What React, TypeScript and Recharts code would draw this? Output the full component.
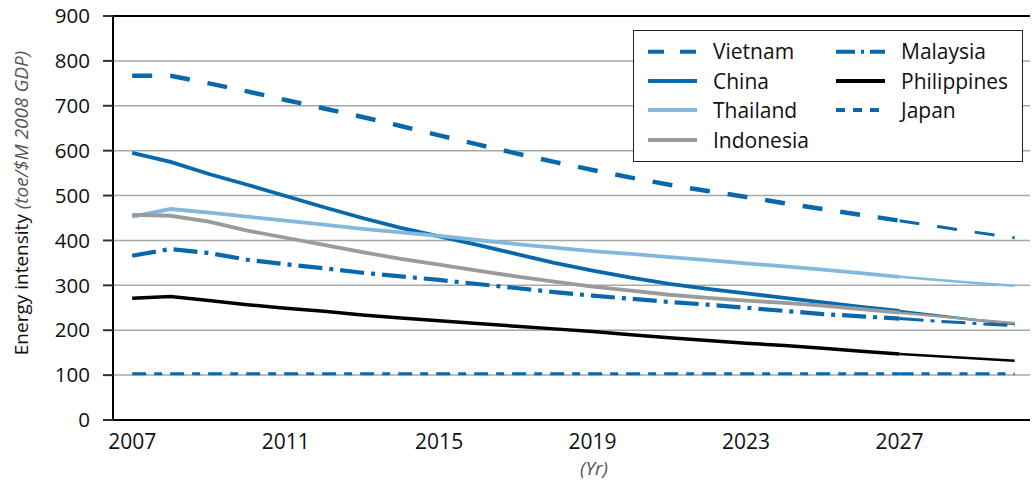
import React from 'react';
import { LineChart, Line, XAxis, YAxis, CartesianGrid, ReferenceLine } from 'recharts';

const years = [2007, 2008, 2009, 2010, 2011, 2012, 2013, 2014, 2015, 2016, 2017, 2018, 2019, 2020, 2021, 2022, 2023, 2024, 2025, 2026, 2027, 2028, 2029, 2030];

const vietnam = [767, 767, 750, 732, 713, 694, 675, 655, 634, 614, 594, 575, 557, 540, 524, 510, 497, 483, 470, 457, 444, 431, 418, 406];
const china = [595, 575, 548, 524, 499, 474, 450, 428, 409, 390, 370, 350, 333, 317, 303, 292, 282, 272, 262, 252, 243, 233, 223, 214];
const thailand = [453, 470, 462, 453, 444, 435, 426, 418, 410, 401, 392, 384, 376, 370, 363, 356, 349, 342, 335, 327, 319, 312, 305, 299];
const indonesia = [457, 455, 442, 422, 406, 390, 374, 359, 346, 333, 320, 308, 297, 288, 279, 272, 266, 261, 255, 247, 239, 231, 223, 216];
const malaysia = [366, 381, 372, 357, 347, 338, 328, 320, 312, 303, 294, 285, 277, 270, 263, 257, 250, 243, 236, 231, 226, 220, 215, 210];
const philippines = [271, 275, 266, 257, 249, 242, 234, 227, 221, 215, 209, 203, 197, 190, 183, 177, 171, 166, 160, 153, 147, 142, 137, 132];
const japan = [103, 103, 103, 103, 103, 103, 103, 103, 103, 103, 103, 103, 103, 103, 103, 103, 103, 103, 103, 103, 103, 103, 103, 103];

const xTicks = [2007, 2011, 2015, 2019, 2023, 2027];
const yTicks = [0, 100, 200, 300, 400, 500, 600, 700, 800, 900];
// last projected stretch is drawn thinner in the original
const tailStart = 2027;

const BLUE = '#0868ac';
const LIGHT = '#84b7dc';
const GREY = '#9b9b9b';

const series = [
  { key: 'vietnam', name: 'Vietnam', values: vietnam, color: BLUE, dash: '20 18', width: 4.5, tail: 3, legendDash: '16 16' },
  { key: 'china', name: 'China', values: china, color: BLUE, dash: undefined, width: 3.8, tail: 2.5, legendDash: undefined },
  { key: 'thailand', name: 'Thailand', values: thailand, color: LIGHT, dash: undefined, width: 3.8, tail: 2.5, legendDash: undefined },
  { key: 'indonesia', name: 'Indonesia', values: indonesia, color: GREY, dash: undefined, width: 3.8, tail: 2.5, legendDash: undefined },
  { key: 'malaysia', name: 'Malaysia', values: malaysia, color: BLUE, dash: '24 7 4 7', width: 4.2, tail: 3, legendDash: '19 6 3 6' },
  { key: 'philippines', name: 'Philippines', values: philippines, color: '#000', dash: undefined, width: 3.5, tail: 2.5, legendDash: undefined },
  { key: 'japan', name: 'Japan', values: japan, color: BLUE, dash: '14 8 8 8', width: 3.2, tail: 3, legendDash: '9 8' },
];

const rows = years.map((year, i) => {
  const row: any = { year };
  series.forEach(s => {
    row[s.key] = year <= tailStart ? s.values[i] : null;
    row[s.key + 'Tail'] = year >= tailStart ? s.values[i] : null;
  });
  return row;
});

const YLabel = () => (
  <text transform="translate(28,203) rotate(-90)" textAnchor="middle" fontSize={19} fontFamily='"Open Sans", sans-serif'>
    <tspan fill="#111">Energy intensity </tspan>
    <tspan fill="#555" fontStyle="italic">(toe/$M 2008 GDP)</tspan>
  </text>
);

const XLabel = () => (
  <text x={594} y={475} textAnchor="middle" fontSize={19} fontStyle="italic" fill="#555" fontFamily='"Open Sans", sans-serif'>(Yr)</text>
);

const legendCols = [
  ['vietnam', 'china', 'thailand', 'indonesia'],
  ['malaysia', 'philippines', 'japan'],
];
const legendRowY = [21.7, 51, 80, 110];
const legendColX = [15, 203];

const LegendBox = () => (
  <div style={{ position: 'absolute', left: 633, top: 30, width: 390, height: 132, border: '1.5px solid #222', boxSizing: 'border-box', background: '#fff' }}>
    <svg width={390} height={132} style={{ position: 'absolute', left: -1.5, top: -1.5 }}>
      {legendCols.map((col, ci) =>
        col.map((key, ri) => {
          const s = series.find(d => d.key === key)!;
          const x = legendColX[ci];
          const y = legendRowY[ri];
          return (
            <g key={key}>
              <line x1={x} x2={x + 49} y1={y} y2={y} stroke={s.color} strokeWidth={4} strokeDasharray={s.legendDash} />
              <text x={x + 65} y={y + 7.5} fontSize={21} fill="#111" fontFamily='"Open Sans", sans-serif'>{s.name}</text>
            </g>
          );
        })
      )}
    </svg>
  </div>
);

export default function App() {
  return (
    <div style={{ position: 'absolute', left: 0, top: 0, width: 1034, height: 481, background: '#fff', fontFamily: '"Open Sans", sans-serif' }}>
      <LineChart width={1034} height={481} data={rows} margin={{ top: 16, right: 4, bottom: 0, left: 0 }}>
        <CartesianGrid vertical={false} stroke="#a8a8a8" strokeWidth={1.5} />
        <XAxis
          type="number"
          dataKey="year"
          domain={[2006.5, 2030.4]}
          ticks={xTicks}
          allowDataOverflow
          height={61}
          tickLine={false}
          axisLine={{ stroke: '#000', strokeWidth: 2 }}
          tick={{ fontSize: 21, fill: '#111' }}
          tickMargin={8}
          label={{ content: XLabel }}
        />
        <YAxis
          type="number"
          domain={[0, 900]}
          ticks={yTicks}
          width={113}
          tickSize={10}
          tickMargin={13}
          tickLine={{ stroke: '#333', strokeWidth: 2 }}
          axisLine={{ stroke: '#000', strokeWidth: 2 }}
          tick={{ fontSize: 20.5, fill: '#111' }}
          label={{ content: YLabel }}
        />
        <ReferenceLine y={900} stroke="#000" strokeWidth={2} />
        {series.map(s => (
          <Line
            key={s.key}
            dataKey={s.key}
            name={s.name}
            type="linear"
            stroke={s.color}
            strokeWidth={s.width}
            strokeDasharray={s.dash}
            dot={false}
            activeDot={false}
            isAnimationActive={false}
          />
        ))}
        {series.map(s => (
          <Line
            key={s.key + 'Tail'}
            dataKey={s.key + 'Tail'}
            legendType="none"
            type="linear"
            stroke={s.color}
            strokeWidth={s.tail}
            strokeDasharray={s.dash}
            dot={false}
            activeDot={false}
            isAnimationActive={false}
          />
        ))}
      </LineChart>
      <LegendBox />
    </div>
  );
}
